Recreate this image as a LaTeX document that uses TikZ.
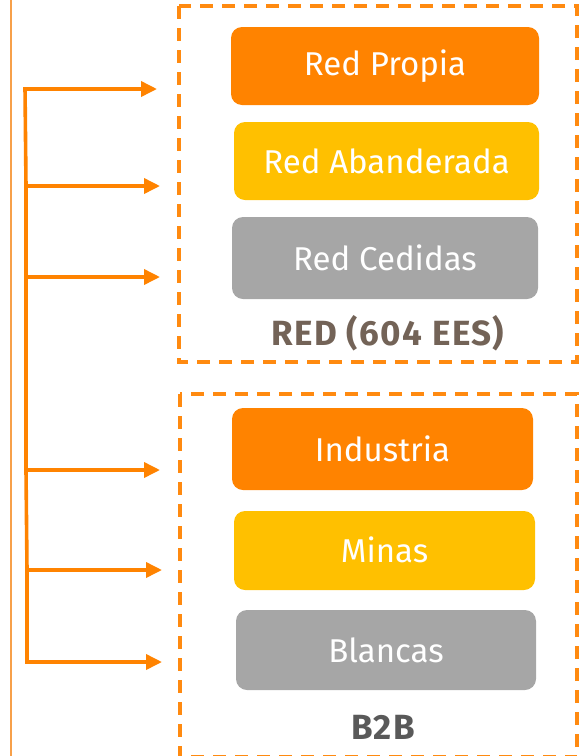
\documentclass[tikz,border=0pt]{standalone}
\usepackage{fontspec}
\setmainfont{Fira Sans}
\usetikzlibrary{arrows.meta}
\definecolor{cOrange}{HTML}{FF8300}
\definecolor{cYellow}{HTML}{FFC000}
\definecolor{cGray}{HTML}{A6A6A6}
\definecolor{cDash}{HTML}{FF8A10}
\definecolor{cLine}{HTML}{F7A04A}
\definecolor{cTitleA}{HTML}{736357}
\definecolor{cTitleB}{HTML}{595959}
\tikzset{
  pill/.style={inner sep=0pt, text=white, font=\fontsize{33}{36}\selectfont},
  group/.style={draw=cDash, line width=3.6pt, dash pattern=on 13pt off 9pt},
  arr/.style={draw=cOrange, line width=3.6pt, -{Triangle[length=16pt,width=15pt]}},
  brk/.style={draw=cOrange, line width=3.6pt},
  ttl/.style={font=\bfseries\fontsize{35}{38}\selectfont\addfontfeatures{LetterSpace=4}},
}
\begin{document}
\begin{tikzpicture}[x=1pt,y=-1pt]
\useasboundingbox (0,0) rectangle (579,756);
% thin left line
\draw[cLine, line width=1.5pt] (11,0) -- (11,756);
% group boxes
\draw[group] (179,6) rectangle (577,362);
\draw[group] (180,394) rectangle (577,757);
% pills
\fill[cOrange, rounded corners=11pt] (231,27) rectangle (539,105);
\node[pill] (p1) at (385,66) {Red Propia};
\fill[cYellow, rounded corners=11pt] (234,122) rectangle (539,200);
\node[pill] (p2) at (386.5,161) {Red Abanderada};
\fill[cGray, rounded corners=11pt] (232,217) rectangle (538,299);
\node[pill] (p3) at (385,258) {Red Cedidas};
\node[ttl, text=cTitleA] (t1) at (388,333) {RED (604 EES)};
\fill[cOrange, rounded corners=11pt] (232,408) rectangle (533,490);
\node[pill] (p4) at (382.5,449) {Industria};
\fill[cYellow, rounded corners=11pt] (234,511) rectangle (535,590);
\node[pill] (p5) at (384.5,550) {Minas};
\fill[cGray, rounded corners=11pt] (236,610) rectangle (536,690);
\node[pill] (p6) at (386,650) {Blancas};
\node[ttl, text=cTitleB] (t2) at (383,727) {B2B};
% bracket
\draw[brk] (25,87.2) -- (26,186) -- (26,277) -- (26,470) -- (27,570) -- (27,663.8);
\coordinate (a1s) at (24,89); \coordinate (a1e) at (157,89);
\coordinate (a2s) at (26,186); \coordinate (a2e) at (160,186);
\coordinate (a3s) at (26,277); \coordinate (a3e) at (160,277);
\coordinate (a4s) at (26,470); \coordinate (a4e) at (160,470);
\coordinate (a5s) at (27,570); \coordinate (a5e) at (162,570);
\coordinate (a6s) at (26,662); \coordinate (a6e) at (162,662);
\draw[arr] (a1s) -- (a1e);
\draw[arr] (a2s) -- (a2e);
\draw[arr] (a3s) -- (a3e);
\draw[arr] (a4s) -- (a4e);
\draw[arr] (a5s) -- (a5e);
\draw[arr] (a6s) -- (a6e);
\end{tikzpicture}
\end{document}
